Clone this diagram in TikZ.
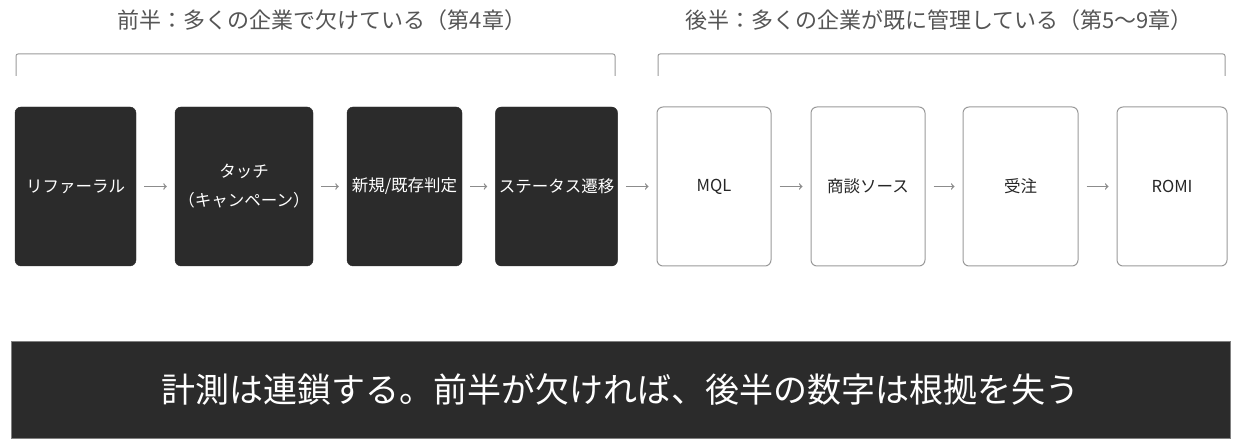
\documentclass[tikz,border=0pt]{standalone}
\usepackage{fontspec}
\setmainfont{Noto Sans CJK JP}
\definecolor{boxdark}{HTML}{2B2B2B}
\definecolor{boxedge}{HTML}{9A9A9A}
\definecolor{arrowgray}{HTML}{8C8C8C}
\definecolor{titlegray}{HTML}{555555}
\begin{document}
\begin{tikzpicture}[x=1pt, y=-1pt,
    dark node/.style={rectangle, rounded corners=6pt, fill=boxdark, draw=boxdark, text=white, minimum height=159pt, align=center, font=\fontsize{16.5}{29}\selectfont},
    light node/.style={rectangle, rounded corners=6pt, fill=white, draw=boxedge, line width=1pt, text=black!85, minimum height=159pt, align=center, font=\fontsize{16.5}{29}\selectfont},
    title node/.style={text=titlegray, font=\fontsize{22}{26}\selectfont},
    flow/.style={->, draw=arrowgray, line width=1.3pt, shorten >=8pt, shorten <=8pt}]

    \useasboundingbox (0,0) rectangle (1240,446);

    % Titles
    \node[title node] (firstHalf) at (322,20) {前半：多くの企業で欠けている（第4章）};
    \node[title node] (secondHalf) at (939,20) {後半：多くの企業が既に管理している（第5〜9章）};

    % Brackets
    \draw[boxedge, line width=1pt, rounded corners=2pt] (16,76) -- (16,54) -- (615,54) -- (615,76);
    \draw[boxedge, line width=1pt, rounded corners=2pt] (658,76) -- (658,54) -- (1225,54) -- (1225,76);

    % First half
    \node[dark node, minimum width=121pt] (R) at (75.5,186.5) {リファーラル};
    \node[dark node, minimum width=138pt] (T) at (244,186.5) {タッチ\\（キャンペーン）};
    \node[dark node, minimum width=115pt] (N) at (404.5,186.5) {新規/既存判定};
    \node[dark node, minimum width=121pt] (S) at (556.5,186.5) {ステータス遷移};

    % Second half
    \node[light node, minimum width=114pt] (M) at (714,186.5) {MQL};
    \node[light node, minimum width=114pt] (D) at (868,186.5) {商談ソース};
    \node[light node, minimum width=115pt] (W) at (1020.5,186.5) {受注};
    \node[light node, minimum width=110pt] (O) at (1172,186.5) {ROMI};

    \draw[flow] (R) -- (T);
    \draw[flow] (T) -- (N);
    \draw[flow] (N) -- (S);
    \draw[flow] (S) -- (M);
    \draw[flow] (M) -- (D);
    \draw[flow] (D) -- (W);
    \draw[flow] (W) -- (O);

    % Banner
    \node[rectangle, fill=boxdark, draw=boxdark!60, text=white, minimum width=1219pt, minimum height=97pt, font=\fontsize{34}{38}\selectfont] (summary) at (620.5,389.5) {計測は連鎖する。前半が欠ければ、後半の数字は根拠を失う};

\end{tikzpicture}
\end{document}
